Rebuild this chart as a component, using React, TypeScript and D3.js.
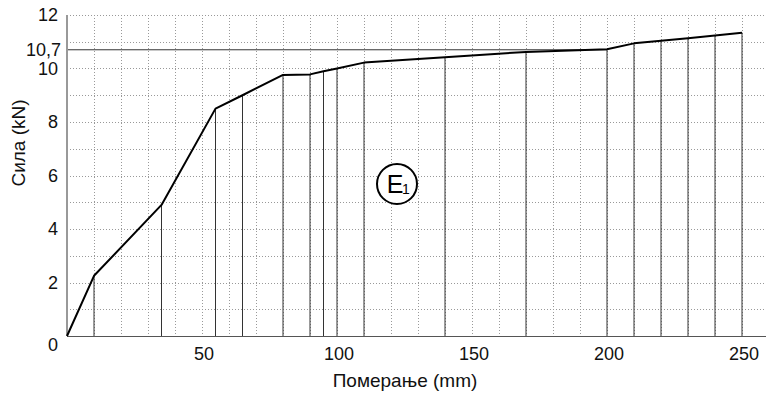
import React, { useEffect, useRef } from "react";
import * as d3 from "d3";

// displacement (mm) and force (kN)
const displacement = [0, 10, 35, 55, 65, 80, 90, 95, 100, 110, 140, 170, 200, 210, 220, 230, 240, 250];
const force = [0, 2.25, 4.9, 8.5, 9.0, 9.76, 9.78, 9.9, 10.0, 10.22, 10.42, 10.62, 10.72, 10.94, 11.04, 11.13, 11.23, 11.34];
const xTicks = [50, 100, 150, 200, 250];
const yTicks = [0, 2, 4, 6, 8, 10, 12];
const refForce = 10.7;
const refLabel = "10,7";

const W = 766;
const H = 397;
const font = "'Liberation Sans', Arial, sans-serif";

const App = () => {
  const ref = useRef<SVGSVGElement>(null);

  useEffect(() => {
    const svg = d3.select(ref.current);
    svg.selectAll("*").remove();

    const x = d3.scaleLinear().domain([0, 250]).range([67, 742]);
    const y = d3.scaleLinear().domain([0, 12]).range([336, 15]);
    const xMax = x.invert(W);

    // dotted grid
    const grid = svg.append("g").attr("stroke", "#999").attr("stroke-dasharray", "1,2").attr("stroke-width", 1);
    grid.selectAll("line.v")
      .data(d3.range(10, xMax, 10))
      .join("line")
      .attr("x1", d => Math.round(x(d)) + 0.5)
      .attr("x2", d => Math.round(x(d)) + 0.5)
      .attr("y1", y(12))
      .attr("y2", y(0));
    grid.selectAll("line.h")
      .data(d3.range(1, 13, 1))
      .join("line")
      .attr("x1", x(0))
      .attr("x2", W)
      .attr("y1", d => Math.round(y(d)) + 0.5)
      .attr("y2", d => Math.round(y(d)) + 0.5);

    // drop lines from each measured point
    svg.append("g")
      .attr("stroke", "#333")
      .attr("stroke-width", 1)
      .selectAll("line")
      .data(displacement.slice(1))
      .join("line")
      .attr("x1", d => x(d))
      .attr("x2", d => x(d))
      .attr("y1", (d, i) => y(force[i + 1]))
      .attr("y2", y(0));

    // reference line at 10,7
    svg.append("line")
      .attr("x1", x(0)).attr("x2", x(200))
      .attr("y1", y(refForce)).attr("y2", y(refForce))
      .attr("stroke", "#333").attr("stroke-width", 1);

    // axes
    svg.append("line")
      .attr("x1", x(0)).attr("x2", x(0)).attr("y1", y(12)).attr("y2", y(0))
      .attr("stroke", "#999").attr("stroke-width", 2);
    svg.append("line")
      .attr("x1", x(0)).attr("x2", W).attr("y1", y(0) + 0.5).attr("y2", y(0) + 0.5)
      .attr("stroke", "#555").attr("stroke-width", 1);

    // curve
    const pts = displacement.map((d, i) => [d, force[i]] as [number, number]);
    svg.append("path")
      .datum(pts)
      .attr("d", d3.line<[number, number]>().x(d => x(d[0])).y(d => y(d[1])))
      .attr("fill", "none")
      .attr("stroke", "#000")
      .attr("stroke-width", 2)
      .attr("stroke-linejoin", "round");

    const txt = svg.append("g").attr("font-family", font).attr("font-size", 18).attr("fill", "#111");

    txt.selectAll("text.yt")
      .data(yTicks)
      .join("text")
      .attr("x", 58)
      .attr("y", d => (d === 0 ? y(d) + 9 : y(d)))
      .attr("dy", "0.35em")
      .attr("text-anchor", "end")
      .text(d => d);

    txt.append("text")
      .attr("x", 61).attr("y", y(refForce)).attr("dy", "0.35em")
      .attr("text-anchor", "end")
      .text(refLabel);

    txt.selectAll("text.xt")
      .data(xTicks)
      .join("text")
      .attr("x", d => x(d) + 2)
      .attr("y", 354)
      .attr("dy", "0.35em")
      .attr("text-anchor", "middle")
      .text(d => d);

    txt.append("text")
      .attr("x", 405).attr("y", 380).attr("dy", "0.35em")
      .attr("text-anchor", "middle")
      .attr("font-size", 19)
      .text("Померање (mm)");

    txt.append("text")
      .attr("transform", "translate(18,143) rotate(-90)")
      .attr("dy", "0.35em")
      .attr("text-anchor", "middle")
      .attr("font-size", 19)
      .text("Сила (kN)");

    // E1 mark
    const mark = svg.append("g").attr("transform", "translate(397,184)");
    mark.append("circle").attr("r", 20).attr("fill", "#fff").attr("stroke", "#000").attr("stroke-width", 2);
    mark.append("text")
      .attr("x", -2).attr("y", 0).attr("dy", "0.35em")
      .attr("text-anchor", "middle")
      .attr("font-family", font).attr("font-size", 25)
      .text("E");
    mark.append("text")
      .attr("x", 9).attr("y", 5).attr("dy", "0.35em")
      .attr("text-anchor", "middle")
      .attr("font-family", font).attr("font-size", 14)
      .text("1");
  }, []);

  return (
    <svg
      ref={ref}
      width={W}
      height={H}
      style={{ position: "absolute", left: 0, top: 0, background: "#fff" }}
    />
  );
};

export default App;
